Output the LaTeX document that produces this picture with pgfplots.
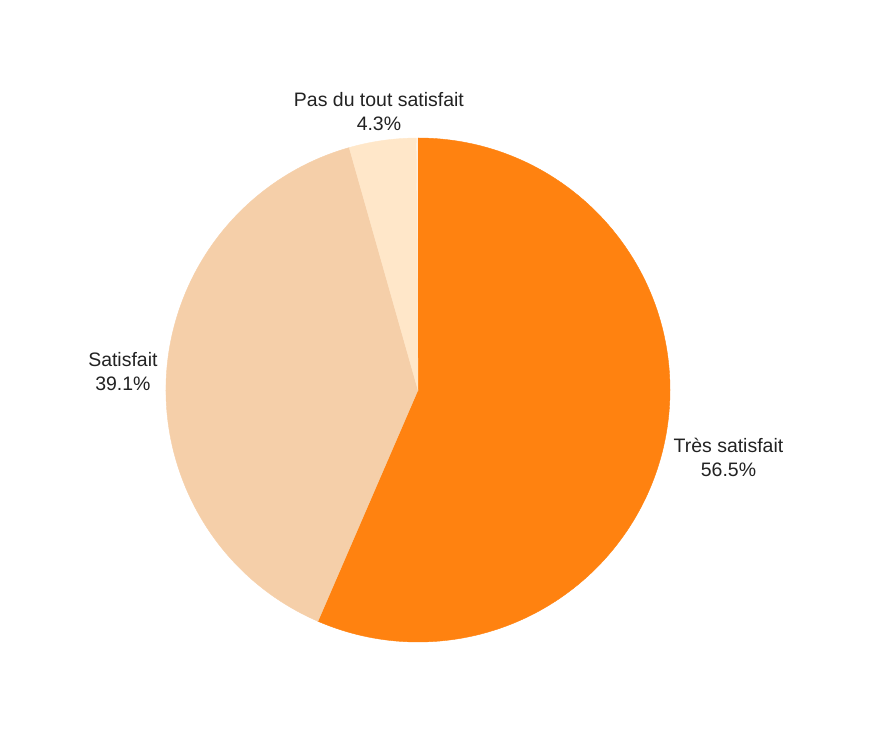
\documentclass[border=0pt]{standalone}
\usepackage{fontspec}
\setmainfont{Liberation Sans}
\usepackage{pgfplots}
\pgfplotsset{compat=1.18}

\definecolor{tres}{HTML}{FF8210}
\definecolor{sat}{HTML}{F5CFA9}
\definecolor{pas}{HTML}{FFE7C9}
\definecolor{txt}{HTML}{222222}

% share of each answer, in percent
\def\vTres{56.5}
\def\vSat{39.1}
\def\vPas{4.3}

\begin{document}
\begin{tikzpicture}
\begin{axis}[
    hide axis,
    x=189pt, y=189pt,
    xmin=-1.6587, xmax=1.8016,
    ymin=-1.3571, ymax=1.5476,
    clip=false,
]
\path (rel axis cs:0,0) rectangle (rel axis cs:1,1);

% slices, clockwise from the top
\filldraw[tres, line width=0.3pt] (axis cs:0,0) -- (axis cs:0,1)
    arc[start angle=90, delta angle=-\vTres*3.6, radius=189pt] -- cycle;
\filldraw[sat, line width=0.3pt] (axis cs:0,0) -- (axis cs:{cos(90-\vTres*3.6)},{sin(90-\vTres*3.6)})
    arc[start angle=90-\vTres*3.6, delta angle=-\vSat*3.6, radius=189pt] -- cycle;
\filldraw[pas, line width=0.3pt] (axis cs:0,0) -- (axis cs:{cos(90-(\vTres+\vSat)*3.6)},{sin(90-(\vTres+\vSat)*3.6)})
    arc[start angle=90-(\vTres+\vSat)*3.6, delta angle=-\vPas*3.6, radius=189pt] -- cycle;

\begin{scope}[every node/.style={align=center, text=txt,
    font=\fontsize{14.6}{18}\selectfont}]
\node at (axis cs:1.232,-0.266) {Très satisfait\\56.5\%};
\node at (axis cs:-1.171,0.075) {Satisfait\\39.1\%};
\node at (axis cs:-0.155,1.103) {Pas du tout satisfait\\4.3\%};
\end{scope}
\end{axis}
\end{tikzpicture}
\end{document}
